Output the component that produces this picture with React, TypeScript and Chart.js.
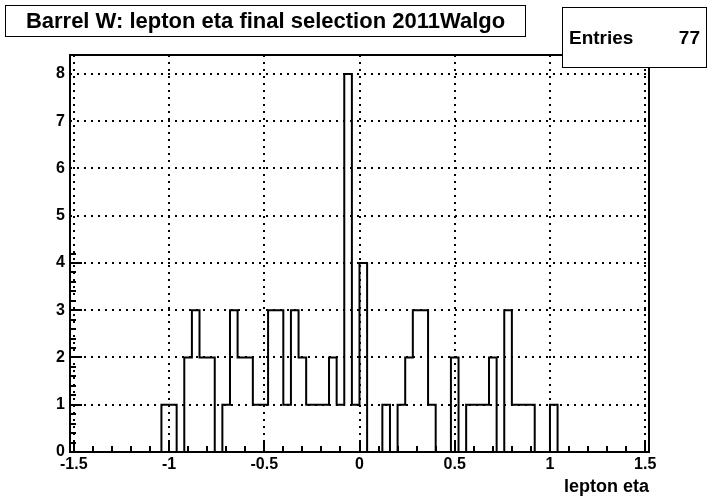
import React, { useEffect, useRef } from "react";
import { Chart, registerables } from "chart.js";

Chart.register(...registerables);

// ---- data ----
const X_LOW = -1.52;
const X_HIGH = 1.52;
const BIN_WIDTH = 0.04;
const COUNTS = [
  0, 0, 0, 0, 0, 0, 0, 0, 0, 0, 0, 0,
  1, 1, 0, 2, 3, 2, 2,
  0, 1, 3, 2, 2, 1, 1,
  3, 3, 1, 3, 2, 1, 1, 1,
  2, 1, 8, 1, 4,
  0, 0, 1, 0, 1, 2,
  3, 3, 1, 0, 0, 2, 0,
  1, 1, 1, 2, 0, 3,
  1, 1, 1, 0, 0, 1,
  0, 0, 0, 0, 0, 0, 0, 0, 0, 0, 0, 0,
];
const X_TICKS = [-1.5, -1, -0.5, 0, 0.5, 1, 1.5];
const Y_TICKS = [0, 1, 2, 3, 4, 5, 6, 7, 8];
const Y_MAX = 8.4;
const TITLE = "Barrel W: lepton eta final selection 2011Walgo";
const X_TITLE = "lepton eta";
const STATS_LABEL = "Entries";

const FONT = '"Liberation Sans", Arial, Helvetica, sans-serif';

const rootPlugin = {
  id: "rootStyle",
  afterDatasetsDraw(chart: any) {
    const { ctx, chartArea: a, scales } = chart;
    const x = scales.x;
    const y = scales.y;
    ctx.save();
    ctx.strokeStyle = "#000";
    ctx.lineWidth = 2;
    ctx.setLineDash([]);
    ctx.beginPath();
    for (let i = -15; i <= 15; i++) {
      const px = Math.round(x.getPixelForValue(i / 10));
      const len = i % 5 === 0 ? 12 : 6;
      ctx.moveTo(px, a.bottom);
      ctx.lineTo(px, a.bottom - len);
    }
    for (let i = 0; i <= 42; i += 2) {
      const py = Math.round(y.getPixelForValue(i / 10));
      const len = i % 10 === 0 ? 12 : 6;
      ctx.moveTo(a.left, py);
      ctx.lineTo(a.left + len, py);
    }
    ctx.stroke();
    ctx.strokeRect(a.left, a.top, a.right - a.left, a.bottom - a.top);
    ctx.restore();
  },
  afterDraw(chart: any) {
    const { ctx } = chart;
    ctx.save();
    ctx.lineWidth = 1;
    ctx.strokeStyle = "#000";
    ctx.fillStyle = "#fff";
    // title box
    ctx.fillRect(5, 5, 521, 32);
    ctx.strokeRect(5.5, 5.5, 520, 31);
    ctx.fillStyle = "#000";
    ctx.font = `bold 22px ${FONT}`;
    ctx.textAlign = "center";
    ctx.textBaseline = "middle";
    ctx.fillText(TITLE, 265.5, 21.5);
    // stats box
    ctx.fillStyle = "#fff";
    ctx.fillRect(562, 7, 145, 61);
    ctx.strokeRect(562.5, 7.5, 144, 60);
    ctx.fillStyle = "#000";
    ctx.font = `bold 19px ${FONT}`;
    ctx.textBaseline = "alphabetic";
    ctx.textAlign = "left";
    ctx.fillText(STATS_LABEL, 569, 44);
    ctx.textAlign = "right";
    const entries = COUNTS.reduce((s, v) => s + v, 0);
    ctx.fillText(String(entries), 700, 44);
    ctx.restore();
  },
};

export default function App() {
  const ref = useRef<HTMLCanvasElement | null>(null);
  useEffect(() => {
    if (!ref.current) return;
    const points = COUNTS.map((v, k) => ({ x: X_LOW + k * BIN_WIDTH, y: v }));
    points.push({ x: X_HIGH, y: COUNTS[COUNTS.length - 1] });
    const chart = new Chart(ref.current, {
      type: "line",
      data: {
        datasets: [
          {
            data: points,
            stepped: "before",
            borderColor: "#000",
            borderWidth: 2,
            pointRadius: 0,
            fill: false,
            borderJoinStyle: "miter",
            borderCapStyle: "butt",
          } as any,
        ],
      },
      options: {
        animation: false,
        responsive: false,
        devicePixelRatio: 1,
        layout: { padding: { left: 0, right: 66, top: 55, bottom: 0 } },
        plugins: { legend: { display: false }, tooltip: { enabled: false }, title: { display: false } },
        scales: {
          x: {
            type: "linear",
            min: X_LOW,
            max: X_HIGH,
            afterBuildTicks: (s: any) => {
              s.ticks = X_TICKS.map((v) => ({ value: v }));
            },
            afterFit: (s: any) => {
              s.height = 50;
            },
            ticks: {
              autoSkip: false,
              maxRotation: 0,
              padding: 3,
              color: "#000",
              font: { family: FONT, size: 16, weight: "bold" },
              callback: (v: any) => String(v),
            },
            grid: { color: "#000", lineWidth: 2, drawTicks: false },
            border: { display: false, dash: [2, 5] },
            title: {
              display: true,
              text: X_TITLE,
              align: "end",
              color: "#000",
              font: { family: FONT, size: 18, weight: "bold" },
              padding: { top: 0, bottom: 4 },
            },
          },
          y: {
            type: "linear",
            min: 0,
            max: Y_MAX,
            afterBuildTicks: (s: any) => {
              s.ticks = Y_TICKS.map((v) => ({ value: v }));
            },
            afterFit: (s: any) => {
              s.width = 70;
            },
            ticks: {
              autoSkip: false,
              padding: 5,
              color: "#000",
              font: { family: FONT, size: 16, weight: "bold" },
              callback: (v: any) => String(v),
            },
            grid: { color: "#000", lineWidth: 2, drawTicks: false },
            border: { display: false, dash: [2, 5] },
          },
        },
      } as any,
      plugins: [rootPlugin],
    });
    return () => chart.destroy();
  }, []);
  return (
    <div style={{ position: "absolute", left: 0, top: 0, width: 715, height: 502, background: "#fff" }}>
      <canvas ref={ref} width={715} height={502} />
    </div>
  );
}
